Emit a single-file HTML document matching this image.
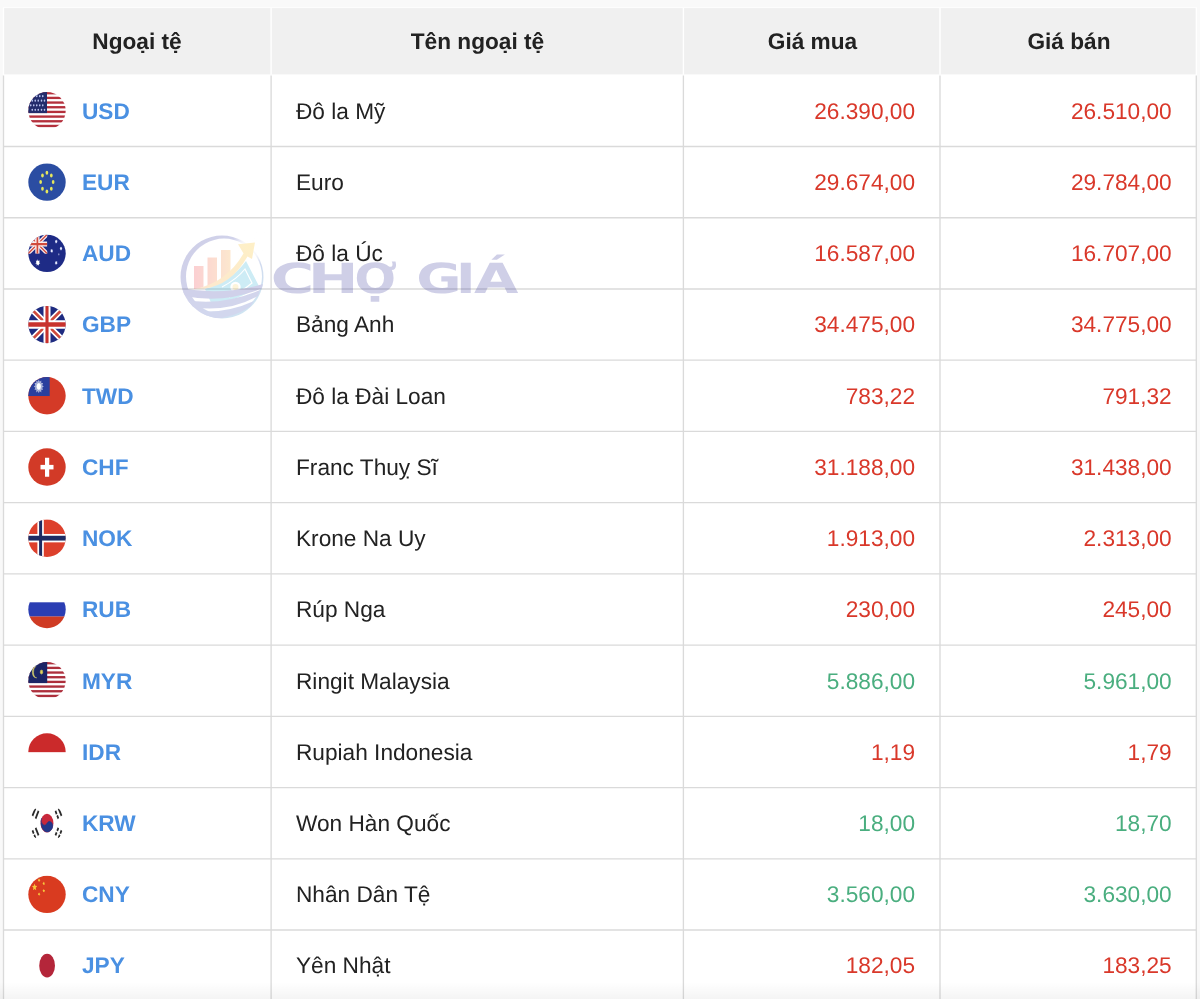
<!DOCTYPE html>
<html lang="vi"><head><meta charset="utf-8"><title>Tỷ giá ngoại tệ</title>
<style>
html,body{margin:0;padding:0}
body{width:1200px;height:999px;overflow:hidden;background:#f9f9f9;font-family:"Liberation Sans",sans-serif;font-size:22.67px;color:#222;position:relative;text-rendering:geometricPrecision}
.tbl{position:absolute;left:0;top:0;width:1200px;height:999px}
.bodybg{position:absolute;left:3px;top:74px;width:1194px;height:925px;background:#fff}
.hd{position:absolute;z-index:2;top:8px;height:66.5px;font-weight:bold;text-align:center;line-height:67px;color:#222}
.row{position:absolute;z-index:2;left:0;width:1200px;height:71.29px;line-height:71.29px;white-space:nowrap}
.c{position:absolute;top:0;height:100%}
.c1{left:4px;width:266px}
.c2{left:272px;width:411px;padding-left:24px;box-sizing:border-box}
.c3{left:685px;width:255px;text-align:right;padding-right:25px;box-sizing:border-box}
.c4{left:942px;width:254px;text-align:right;padding-right:24.3px;box-sizing:border-box}
.code{position:absolute;left:78px;font-weight:bold;color:#4a90e2}
.r{color:#d9382a}
.g{color:#4aae7f}
.grid{position:absolute;z-index:1;left:0;top:0;pointer-events:none}
.fade{position:absolute;z-index:4;left:0;top:982px;width:1200px;height:17px;background:linear-gradient(to bottom,rgba(0,0,0,0),rgba(0,0,0,0.045))}
.wm{pointer-events:none}
</style></head>
<body>
<div class="tbl" role="table" aria-label="Tỷ giá ngoại tệ">
<div class="bodybg"></div>
<div role="row">
<div class="hd" role="columnheader" style="left:4px;width:266px">Ngoại tệ</div>
<div class="hd" role="columnheader" style="left:272px;width:411px">Tên ngoại tệ</div>
<div class="hd" role="columnheader" style="left:685px;width:255px">Giá mua</div>
<div class="hd" role="columnheader" style="left:942px;width:254px">Giá bán</div>
</div>
<div class="row" role="row" style="top:74.85px;height:72.10px;line-height:72.10px"><div class="c c1" role="cell"><span class="code">USD</span></div><div class="c c2" role="cell">Đô la Mỹ</div><div class="c c3 r" role="cell">26.390,00</div><div class="c c4 r" role="cell">26.510,00</div></div>
<div class="row" role="row" style="top:146.95px;height:71.23px;line-height:71.23px"><div class="c c1" role="cell"><span class="code">EUR</span></div><div class="c c2" role="cell">Euro</div><div class="c c3 r" role="cell">29.674,00</div><div class="c c4 r" role="cell">29.784,00</div></div>
<div class="row" role="row" style="top:218.18px;height:71.23px;line-height:71.23px"><div class="c c1" role="cell"><span class="code">AUD</span></div><div class="c c2" role="cell">Đô la Úc</div><div class="c c3 r" role="cell">16.587,00</div><div class="c c4 r" role="cell">16.707,00</div></div>
<div class="row" role="row" style="top:289.41px;height:71.23px;line-height:71.23px"><div class="c c1" role="cell"><span class="code">GBP</span></div><div class="c c2" role="cell">Bảng Anh</div><div class="c c3 r" role="cell">34.475,00</div><div class="c c4 r" role="cell">34.775,00</div></div>
<div class="row" role="row" style="top:360.64px;height:71.23px;line-height:71.23px"><div class="c c1" role="cell"><span class="code">TWD</span></div><div class="c c2" role="cell">Đô la Đài Loan</div><div class="c c3 r" role="cell">783,22</div><div class="c c4 r" role="cell">791,32</div></div>
<div class="row" role="row" style="top:431.87px;height:71.23px;line-height:71.23px"><div class="c c1" role="cell"><span class="code">CHF</span></div><div class="c c2" role="cell">Franc Thuỵ Sĩ</div><div class="c c3 r" role="cell">31.188,00</div><div class="c c4 r" role="cell">31.438,00</div></div>
<div class="row" role="row" style="top:503.10px;height:71.23px;line-height:71.23px"><div class="c c1" role="cell"><span class="code">NOK</span></div><div class="c c2" role="cell">Krone Na Uy</div><div class="c c3 r" role="cell">1.913,00</div><div class="c c4 r" role="cell">2.313,00</div></div>
<div class="row" role="row" style="top:574.33px;height:71.23px;line-height:71.23px"><div class="c c1" role="cell"><span class="code">RUB</span></div><div class="c c2" role="cell">Rúp Nga</div><div class="c c3 r" role="cell">230,00</div><div class="c c4 r" role="cell">245,00</div></div>
<div class="row" role="row" style="top:645.56px;height:71.23px;line-height:71.23px"><div class="c c1" role="cell"><span class="code">MYR</span></div><div class="c c2" role="cell">Ringit Malaysia</div><div class="c c3 g" role="cell">5.886,00</div><div class="c c4 g" role="cell">5.961,00</div></div>
<div class="row" role="row" style="top:716.79px;height:71.23px;line-height:71.23px"><div class="c c1" role="cell"><span class="code">IDR</span></div><div class="c c2" role="cell">Rupiah Indonesia</div><div class="c c3 r" role="cell">1,19</div><div class="c c4 r" role="cell">1,79</div></div>
<div class="row" role="row" style="top:788.02px;height:71.23px;line-height:71.23px"><div class="c c1" role="cell"><span class="code">KRW</span></div><div class="c c2" role="cell">Won Hàn Quốc</div><div class="c c3 g" role="cell">18,00</div><div class="c c4 g" role="cell">18,70</div></div>
<div class="row" role="row" style="top:859.25px;height:71.23px;line-height:71.23px"><div class="c c1" role="cell"><span class="code">CNY</span></div><div class="c c2" role="cell">Nhân Dân Tệ</div><div class="c c3 g" role="cell">3.560,00</div><div class="c c4 g" role="cell">3.630,00</div></div>
<div class="row" role="row" style="top:930.48px;height:71.23px;line-height:71.23px"><div class="c c1" role="cell"><span class="code">JPY</span></div><div class="c c2" role="cell">Yên Nhật</div><div class="c c3 r" role="cell">182,05</div><div class="c c4 r" role="cell">183,25</div></div>
<svg class="grid" aria-hidden="true" width="1200" height="999" viewBox="0 0 1200 999"><rect x="2.85" y="7.3" width="1194.1" height="68" fill="#fff"/><rect x="4.15" y="8.1" width="1191.5" height="66.3" fill="#f0f0f0"/><line x1="271.10" y1="8" x2="271.10" y2="74.6" stroke="#fff" stroke-width="1.4"/><line x1="683.40" y1="8" x2="683.40" y2="74.6" stroke="#fff" stroke-width="1.4"/><line x1="940.00" y1="8" x2="940.00" y2="74.6" stroke="#fff" stroke-width="1.4"/><line x1="3" y1="146.50" x2="1197" y2="146.50" stroke="#dadada" stroke-width="1.35"/><line x1="3" y1="217.73" x2="1197" y2="217.73" stroke="#dadada" stroke-width="1.35"/><line x1="3" y1="288.96" x2="1197" y2="288.96" stroke="#dadada" stroke-width="1.35"/><line x1="3" y1="360.19" x2="1197" y2="360.19" stroke="#dadada" stroke-width="1.35"/><line x1="3" y1="431.42" x2="1197" y2="431.42" stroke="#dadada" stroke-width="1.35"/><line x1="3" y1="502.65" x2="1197" y2="502.65" stroke="#dadada" stroke-width="1.35"/><line x1="3" y1="573.88" x2="1197" y2="573.88" stroke="#dadada" stroke-width="1.35"/><line x1="3" y1="645.11" x2="1197" y2="645.11" stroke="#dadada" stroke-width="1.35"/><line x1="3" y1="716.34" x2="1197" y2="716.34" stroke="#dadada" stroke-width="1.35"/><line x1="3" y1="787.57" x2="1197" y2="787.57" stroke="#dadada" stroke-width="1.35"/><line x1="3" y1="858.80" x2="1197" y2="858.80" stroke="#dadada" stroke-width="1.35"/><line x1="3" y1="930.03" x2="1197" y2="930.03" stroke="#dadada" stroke-width="1.35"/><line x1="3" y1="1001.26" x2="1197" y2="1001.26" stroke="#dadada" stroke-width="1.35"/><line x1="3.50" y1="75.4" x2="3.50" y2="999" stroke="#dadada" stroke-width="1.35"/><line x1="271.10" y1="75.4" x2="271.10" y2="999" stroke="#dadada" stroke-width="1.35"/><line x1="683.40" y1="75.4" x2="683.40" y2="999" stroke="#dadada" stroke-width="1.35"/><line x1="940.00" y1="75.4" x2="940.00" y2="999" stroke="#dadada" stroke-width="1.35"/><line x1="1196.30" y1="75.4" x2="1196.30" y2="999" stroke="#dadada" stroke-width="1.35"/><g transform="translate(47,110.75)"><clipPath id="cpUSD"><circle cx="0" cy="0" r="18.7"/></clipPath><g clip-path="url(#cpUSD)"><rect x="-19" y="-19" width="38" height="38" fill="#fff"/><rect x="-19" y="-18.70" width="38" height="2.34" fill="#b4303c"/><rect x="-19" y="-14.02" width="38" height="2.34" fill="#b4303c"/><rect x="-19" y="-9.35" width="38" height="2.34" fill="#b4303c"/><rect x="-19" y="-4.68" width="38" height="2.34" fill="#b4303c"/><rect x="-19" y="0.00" width="38" height="2.34" fill="#b4303c"/><rect x="-19" y="4.68" width="38" height="2.34" fill="#b4303c"/><rect x="-19" y="9.35" width="38" height="2.34" fill="#b4303c"/><rect x="-19" y="14.03" width="38" height="2.34" fill="#b4303c"/><rect x="-19" y="-19" width="19" height="21.34" fill="#232c6c"/><ellipse cx="-16.25" cy="-14.60" rx="0.8" ry="1.05" fill="#b9c3ee"/><ellipse cx="-13.25" cy="-14.60" rx="0.8" ry="1.05" fill="#b9c3ee"/><ellipse cx="-10.25" cy="-14.60" rx="0.8" ry="1.05" fill="#b9c3ee"/><ellipse cx="-7.25" cy="-14.60" rx="0.8" ry="1.05" fill="#b9c3ee"/><ellipse cx="-4.25" cy="-14.60" rx="0.8" ry="1.05" fill="#b9c3ee"/><ellipse cx="-14.75" cy="-10.10" rx="0.8" ry="1.05" fill="#b9c3ee"/><ellipse cx="-11.75" cy="-10.10" rx="0.8" ry="1.05" fill="#b9c3ee"/><ellipse cx="-8.75" cy="-10.10" rx="0.8" ry="1.05" fill="#b9c3ee"/><ellipse cx="-5.50" cy="-10.10" rx="0.8" ry="1.05" fill="#b9c3ee"/><ellipse cx="-2.50" cy="-10.10" rx="0.8" ry="1.05" fill="#b9c3ee"/><ellipse cx="-16.25" cy="-5.40" rx="0.8" ry="1.05" fill="#b9c3ee"/><ellipse cx="-13.25" cy="-5.40" rx="0.8" ry="1.05" fill="#b9c3ee"/><ellipse cx="-10.25" cy="-5.40" rx="0.8" ry="1.05" fill="#b9c3ee"/><ellipse cx="-7.25" cy="-5.40" rx="0.8" ry="1.05" fill="#b9c3ee"/><ellipse cx="-4.25" cy="-5.40" rx="0.8" ry="1.05" fill="#b9c3ee"/><ellipse cx="-14.75" cy="-0.90" rx="0.8" ry="1.05" fill="#b9c3ee"/><ellipse cx="-11.75" cy="-0.90" rx="0.8" ry="1.05" fill="#b9c3ee"/><ellipse cx="-8.75" cy="-0.90" rx="0.8" ry="1.05" fill="#b9c3ee"/><ellipse cx="-5.50" cy="-0.90" rx="0.8" ry="1.05" fill="#b9c3ee"/><ellipse cx="-2.50" cy="-0.90" rx="0.8" ry="1.05" fill="#b9c3ee"/></g></g><g transform="translate(47,182.12)"><clipPath id="cpEUR"><circle cx="0" cy="0" r="18.7"/></clipPath><g clip-path="url(#cpEUR)"><rect x="-19" y="-19" width="38" height="38" fill="#2b4da2"/><ellipse cx="-0.10" cy="-9.40" rx="1.35" ry="2.0" fill="#e6e75c"/><ellipse cx="4.32" cy="-6.65" rx="1.35" ry="2.0" fill="#e6e75c"/><ellipse cx="6.15" cy="-0.00" rx="1.35" ry="2.0" fill="#e6e75c"/><ellipse cx="4.32" cy="6.65" rx="1.35" ry="2.0" fill="#e6e75c"/><ellipse cx="-0.10" cy="9.40" rx="1.35" ry="2.0" fill="#e6e75c"/><ellipse cx="-4.52" cy="6.65" rx="1.35" ry="2.0" fill="#e6e75c"/><ellipse cx="-6.35" cy="0.00" rx="1.35" ry="2.0" fill="#e6e75c"/><ellipse cx="-4.52" cy="-6.65" rx="1.35" ry="2.0" fill="#e6e75c"/></g></g><g transform="translate(47,253.35)"><clipPath id="cpAUD"><circle cx="0" cy="0" r="18.7"/></clipPath><g clip-path="url(#cpAUD)"><rect x="-19" y="-19" width="38" height="38" fill="#1e2b86"/><g><clipPath id="auc"><rect x="-19" y="-19" width="19.3" height="19.3"/></clipPath><g clip-path="url(#auc)"><path d="M-19,-19L0.3,0.3M0.3,-19L-19,0.3" stroke="#fbeeee" stroke-width="3.8"/><path d="M-19,-19L0.3,0.3M0.3,-19L-19,0.3" stroke="#d04a3c" stroke-width="1.4"/><path d="M-9.6,-19V0.3" stroke="#fbeeee" stroke-width="4.2"/><path d="M-19,-9.3H0.3" stroke="#fbeeee" stroke-width="5"/><path d="M-9.6,-19V0.3" stroke="#d04a3c" stroke-width="1.7"/><path d="M-19,-9.3H0.3" stroke="#d04a3c" stroke-width="2.2"/></g></g><polygon points="-9.20,5.80 -8.60,7.57 -7.23,7.12 -7.85,8.87 -6.74,10.08 -8.12,10.50 -8.11,12.45 -9.20,11.23 -10.29,12.45 -10.28,10.50 -11.66,10.08 -10.55,8.87 -11.17,7.12 -9.80,7.57" fill="#fff"/><polygon points="9.20,-13.90 9.57,-12.94 10.32,-13.11 10.04,-12.08 10.59,-11.33 9.87,-11.01 9.82,-9.91 9.20,-10.54 8.58,-9.91 8.53,-11.01 7.81,-11.33 8.36,-12.08 8.08,-13.11 8.83,-12.94" fill="#e8ecff" fill-opacity="1"/><polygon points="14.00,-6.90 14.37,-5.94 15.12,-6.11 14.84,-5.08 15.39,-4.33 14.67,-4.01 14.62,-2.91 14.00,-3.54 13.38,-2.91 13.33,-4.01 12.61,-4.33 13.16,-5.08 12.88,-6.11 13.63,-5.94" fill="#e8ecff" fill-opacity="1"/><polygon points="4.70,-4.60 5.07,-3.64 5.82,-3.81 5.54,-2.78 6.09,-2.03 5.37,-1.71 5.32,-0.61 4.70,-1.24 4.08,-0.61 4.03,-1.71 3.31,-2.03 3.86,-2.78 3.58,-3.81 4.33,-3.64" fill="#e8ecff" fill-opacity="1"/><polygon points="9.20,7.40 9.57,8.36 10.32,8.19 10.04,9.22 10.59,9.97 9.87,10.29 9.82,11.39 9.20,10.76 8.58,11.39 8.53,10.29 7.81,9.97 8.36,9.22 8.08,8.19 8.83,8.36" fill="#e8ecff" fill-opacity="1"/><polygon points="11.80,-0.30 12.03,0.30 12.49,0.19 12.32,0.83 12.66,1.29 12.21,1.49 12.18,2.17 11.80,1.78 11.42,2.17 11.39,1.49 10.94,1.29 11.28,0.83 11.11,0.19 11.57,0.30" fill="#e8ecff" fill-opacity="0.6"/></g></g><g transform="translate(47,324.58)"><clipPath id="cpGBP"><circle cx="0" cy="0" r="18.7"/></clipPath><g clip-path="url(#cpGBP)"><rect x="-19" y="-19" width="38" height="38" fill="#1e2b80"/><path d="M-19,-19L19,19M19,-19L-19,19" stroke="#fff" stroke-width="6"/><path d="M-19,-19L19,19M19,-19L-19,19" stroke="#cf4a3c" stroke-width="2.6"/><path d="M0,-19V19" stroke="#fff" stroke-width="7"/><path d="M-19,0H19" stroke="#fff" stroke-width="8.5"/><path d="M0,-19V19" stroke="#c8322d" stroke-width="3.1"/><path d="M-19,0H19" stroke="#c8322d" stroke-width="4.5"/></g></g><g transform="translate(47,395.81)"><clipPath id="cpTWD"><circle cx="0" cy="0" r="18.7"/></clipPath><g clip-path="url(#cpTWD)"><rect x="-19" y="-19" width="38" height="38" fill="#d43a27"/><rect x="-19" y="-19" width="21.7" height="19.2" fill="#2a3f9e"/><polygon points="-8.20,-16.30 -7.30,-14.07 -5.72,-15.38 -5.74,-12.82 -3.90,-12.85 -4.84,-10.65 -3.23,-9.40 -4.84,-8.15 -3.90,-5.95 -5.74,-5.98 -5.72,-3.42 -7.30,-4.73 -8.20,-2.50 -9.10,-4.73 -10.68,-3.42 -10.66,-5.98 -12.50,-5.95 -11.56,-8.15 -13.17,-9.40 -11.56,-10.65 -12.50,-12.85 -10.66,-12.82 -10.68,-15.38 -9.10,-14.07" fill="#fff" fill-opacity="0.62"/><ellipse cx="-8.2" cy="-9.4" rx="2.6" ry="3.7" fill="#fff" stroke="#2a3f9e" stroke-width="0.3"/></g></g><g transform="translate(47,467.04)"><clipPath id="cpCHF"><circle cx="0" cy="0" r="18.7"/></clipPath><g clip-path="url(#cpCHF)"><rect x="-19" y="-19" width="38" height="38" fill="#d23a27"/><rect x="-2.0" y="-9.3" width="4.2" height="19" fill="#fff"/><rect x="-6.5" y="-2.15" width="13" height="4.5" fill="#fff"/></g></g><g transform="translate(47,538.26)"><clipPath id="cpNOK"><circle cx="0" cy="0" r="18.7"/></clipPath><g clip-path="url(#cpNOK)"><rect x="-19" y="-19" width="38" height="38" fill="#dd402c"/><rect x="-9.6" y="-19" width="6.4" height="38" fill="#fff"/><rect x="-19" y="-4.3" width="38" height="8.4" fill="#fff"/><rect x="-7.9" y="-19" width="3.0" height="38" fill="#1d2b63"/><rect x="-19" y="-2.5" width="38" height="4.8" fill="#1d2b63"/></g></g><g transform="translate(47,609.50)"><clipPath id="cpRUB"><circle cx="0" cy="0" r="18.7"/></clipPath><g clip-path="url(#cpRUB)"><rect x="-19" y="-19" width="38" height="38" fill="#fff"/><rect x="-19" y="-7.2" width="38" height="14.3" fill="#2b3eb3"/><rect x="-19" y="7.0" width="38" height="13" fill="#cf3b24"/></g></g><g transform="translate(47,680.73)"><clipPath id="cpMYR"><circle cx="0" cy="0" r="18.7"/></clipPath><g clip-path="url(#cpMYR)"><rect x="-19" y="-19" width="38" height="38" fill="#fff"/><rect x="-19" y="-18.70" width="38" height="2.34" fill="#ad2f3c"/><rect x="-19" y="-14.02" width="38" height="2.34" fill="#ad2f3c"/><rect x="-19" y="-9.35" width="38" height="2.34" fill="#ad2f3c"/><rect x="-19" y="-4.68" width="38" height="2.34" fill="#ad2f3c"/><rect x="-19" y="0.00" width="38" height="2.34" fill="#ad2f3c"/><rect x="-19" y="4.68" width="38" height="2.34" fill="#ad2f3c"/><rect x="-19" y="9.35" width="38" height="2.34" fill="#ad2f3c"/><rect x="-19" y="14.03" width="38" height="2.34" fill="#ad2f3c"/><rect x="-19" y="-19" width="19.2" height="21.34" fill="#1c2566"/><path d="M-11.2,-14.3 A4.2,5.75 0 0,0 -10.3,-2.9 A3.6,5.9 0 0,1 -11.2,-14.3Z" fill="#ddd46c" stroke="#ddd46c" stroke-width="0.5" stroke-linejoin="round"/><polygon points="-5.50,-11.60 -5.07,-10.17 -4.06,-10.75 -4.47,-9.31 -3.47,-8.70 -4.47,-8.09 -4.06,-6.65 -5.07,-7.23 -5.50,-5.80 -5.93,-7.23 -6.94,-6.65 -6.53,-8.09 -7.53,-8.70 -6.53,-9.31 -6.94,-10.75 -5.93,-10.17" fill="#e2d55a"/></g></g><g transform="translate(47,751.96)"><clipPath id="cpIDR"><circle cx="0" cy="0" r="18.7"/></clipPath><g clip-path="url(#cpIDR)"><rect x="-19" y="-19" width="38" height="38" fill="#fff"/><rect x="-19" y="-19" width="38" height="19.2" fill="#cb2a2b"/></g></g><g transform="translate(47,823.19)"><clipPath id="cpKRW"><circle cx="0" cy="0" r="18.7"/></clipPath><g clip-path="url(#cpKRW)"><rect x="-19" y="-19" width="38" height="38" fill="#fff"/><g transform="scale(0.68,1)"><circle cx="0" cy="0" r="9.4" fill="#c8283c"/><path d="M-7.8,-5.2 A4.7,4.7 0 0,0 0,0 A4.7,4.7 0 0,1 7.8,5.2 A9.4,9.4 0 0,1 -7.8,-5.2Z" fill="#23388a" stroke="#23388a" stroke-width="0.5"/><g transform="rotate(30.0)"><rect x="-23.40" y="-4.4" width="2.5" height="8.8" fill="#2a2a2a"/><rect x="-18.10" y="-4.4" width="2.5" height="8.8" fill="#2a2a2a"/></g><g transform="rotate(-30.0)"><rect x="-23.40" y="-4.4" width="2.5" height="3.6" fill="#2a2a2a"/><rect x="-23.40" y="0.8" width="2.5" height="3.6" fill="#2a2a2a"/><rect x="-18.10" y="-4.4" width="2.5" height="8.8" fill="#2a2a2a"/></g><g transform="rotate(150.0)"><rect x="-23.40" y="-4.4" width="2.5" height="8.8" fill="#2a2a2a"/><rect x="-18.10" y="-4.4" width="2.5" height="3.6" fill="#2a2a2a"/><rect x="-18.10" y="0.8" width="2.5" height="3.6" fill="#2a2a2a"/></g><g transform="rotate(-150.0)"><rect x="-23.40" y="-4.4" width="2.5" height="3.6" fill="#2a2a2a"/><rect x="-23.40" y="0.8" width="2.5" height="3.6" fill="#2a2a2a"/><rect x="-18.10" y="-4.4" width="2.5" height="3.6" fill="#2a2a2a"/><rect x="-18.10" y="0.8" width="2.5" height="3.6" fill="#2a2a2a"/></g></g></g></g><g transform="translate(47,894.42)"><clipPath id="cpCNY"><circle cx="0" cy="0" r="18.7"/></clipPath><g clip-path="url(#cpCNY)"><rect x="-19" y="-19" width="38" height="38" fill="#d93b20"/><polygon points="-12.40,-11.00 -11.68,-8.58 -9.80,-8.37 -11.23,-6.67 -10.79,-4.13 -12.40,-5.49 -14.01,-4.13 -13.57,-6.67 -15.00,-8.37 -13.12,-8.58" fill="#f6c83c"/><polygon points="-7.20,-15.79 -7.26,-14.50 -6.53,-13.69 -7.43,-13.38 -7.75,-12.16 -8.25,-13.26 -9.18,-13.31 -8.59,-14.30 -8.84,-15.55 -7.97,-15.07" fill="#f6c83c"/><polygon points="-1.98,-11.88 -2.50,-10.80 -2.16,-9.60 -3.05,-9.95 -3.77,-9.12 -3.81,-10.41 -4.60,-11.10 -3.72,-11.55 -3.49,-12.81 -2.91,-11.79" fill="#f6c83c"/><polygon points="-3.20,-5.65 -2.79,-4.49 -1.86,-4.30 -2.53,-3.40 -2.37,-2.12 -3.20,-2.73 -4.03,-2.12 -3.87,-3.40 -4.54,-4.30 -3.61,-4.49" fill="#f6c83c"/><polygon points="-7.20,-1.99 -7.26,-0.70 -6.53,0.11 -7.43,0.42 -7.75,1.64 -8.25,0.54 -9.18,0.49 -8.59,-0.50 -8.84,-1.75 -7.97,-1.27" fill="#f6c83c"/></g></g><g transform="translate(47,965.64)"><clipPath id="cpJPY"><circle cx="0" cy="0" r="18.7"/></clipPath><g clip-path="url(#cpJPY)"><rect x="-19" y="-19" width="38" height="38" fill="#fff"/><ellipse cx="0.1" cy="0" rx="7.9" ry="11.9" fill="#b4263a"/></g></g></svg>
<svg class="wm" width="400" height="110" viewBox="160 220 400 110" style="left:160px;top:220px;position:absolute;z-index:3;opacity:0.245"><defs><linearGradient id="gb" x1="0" y1="0" x2="1" y2="0"><stop offset="0" stop-color="#f0414b"/><stop offset="1" stop-color="#f7a13a"/></linearGradient><linearGradient id="ga" x1="0" y1="1" x2="1" y2="0"><stop offset="0" stop-color="#f7a13a"/><stop offset="1" stop-color="#fbc31c"/></linearGradient><linearGradient id="gr" x1="0" y1="0" x2="1" y2="1"><stop offset="0" stop-color="#3c3c9e"/><stop offset="0.55" stop-color="#4a55b5"/><stop offset="1" stop-color="#35b5d8"/></linearGradient><clipPath id="wmc"><circle cx="222" cy="277" r="41.5"/></clipPath><radialGradient id="gw"><stop offset="0" stop-color="#fff" stop-opacity="1"/><stop offset="0.5" stop-color="#fff" stop-opacity="0.8"/><stop offset="1" stop-color="#fff" stop-opacity="0"/></radialGradient></defs><path fill="url(#gr)" fill-rule="evenodd" d="M222,235.5a41.5,41.5 0 1,0 0.01,0Z M224,238.6a38,38 0 1,1 -0.01,0Z"/><circle cx="252" cy="246" r="20" fill="url(#gw)"/><g clip-path="url(#wmc)"><path fill="url(#gb)" d="M194,266h9.5v21.5l-9.5,1.5Z M207.5,257.5h9.5v26l-9.5,3Z M221,250h9.5v27l-9.5,5.5Z"/><path fill="#35b5d8" d="M205,289 Q232,280 246,261 L259,286 Q240,300 212,305Z"/><path fill="none" stroke="#fff" stroke-width="1.2" d="M222,287 Q237,279 245,269 L252,283 Q240,293 229,297"/><circle cx="235.5" cy="287" r="5.2" fill="#fff"/><circle cx="235.5" cy="287" r="3" fill="#f7d36a"/><path fill="#4448aa" d="M180,288 Q222,296 263,284 L263,288 Q225,304 184,296Z"/><path fill="#4a55b5" d="M186,300 Q222,306 260,290 L258,296 Q228,313 191,307Z"/><path fill="#4a60bd" d="M194,311 Q226,314 254,301 L250,307 Q226,322 203,317Z"/></g><path fill="url(#ga)" d="M196,288.8 Q227,282 243.5,253.5 L238,244.2 L255,242.5 L252,259 L247.5,256.5 Q231,285.5 204,288.6Z"/><text y="292.5" font-family="'DejaVu Sans','Liberation Sans',sans-serif" font-weight="bold" font-size="41.56" fill="#3c3c9e"><tspan x="270.80" textLength="43.49" lengthAdjust="spacingAndGlyphs">C</tspan><tspan x="307.82" textLength="50.86" lengthAdjust="spacingAndGlyphs">H</tspan><tspan x="354.16" textLength="42.74" lengthAdjust="spacingAndGlyphs">Ợ</tspan> <tspan x="416.15" textLength="45.32" lengthAdjust="spacingAndGlyphs">G</tspan><tspan x="456.07" textLength="19.59" lengthAdjust="spacingAndGlyphs">I</tspan><tspan x="474.02" textLength="44.36" lengthAdjust="spacingAndGlyphs">Á</tspan></text></svg>
<div class="fade"></div>
</div>
</body></html>
